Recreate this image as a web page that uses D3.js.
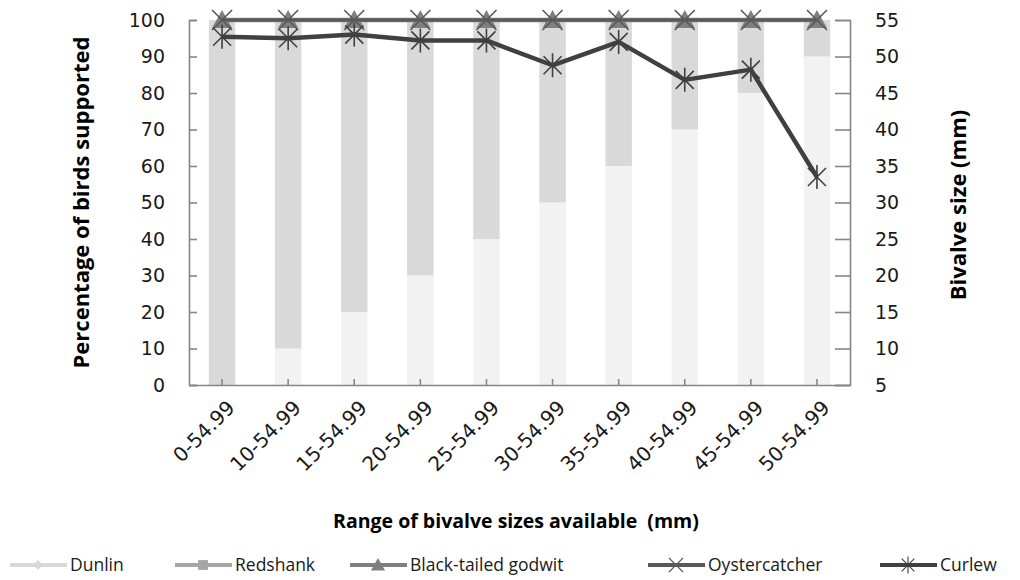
<!DOCTYPE html>
<html>
<head>
<meta charset="utf-8">
<script src="https://cdn.jsdelivr.net/npm/d3@7"></script>
<style>
	body { margin: 0; background: #fff; }
	svg { display: block; }
</style>
</head>
<body>
<div id="chart"></div>
<script>
// data
const categories = ["0-54.99", "10-54.99", "15-54.99", "20-54.99", "25-54.99",
	"30-54.99", "35-54.99", "40-54.99", "45-54.99", "50-54.99"];
const dunlin = [0, 10, 20, 30, 40, 50, 60, 70, 80, 90];
const redshank = [100, 90, 80, 70, 60, 50, 40, 30, 20, 10];
const godwit = [100, 100, 100, 100, 100, 100, 100, 100, 100, 100];
const oystercatcher = [55, 55, 55, 55, 55, 55, 55, 55, 55, 55];
const curlew = [52.7, 52.5, 53.0, 52.2, 52.2, 48.8, 52.0, 46.8, 48.2, 33.5];
const leftTicks = [0, 10, 20, 30, 40, 50, 60, 70, 80, 90, 100];
const rightTicks = [5, 10, 15, 20, 25, 30, 35, 40, 45, 50, 55];

const W = 1020, H = 580;
const pLeft = 189, pRight = 850, pTop = 20, pBottom = 385;
const axisCol = "#868686";

const svg = d3.select("#chart").append("svg")
	.attr("width", W)
	.attr("height", H)
	.style("font-family", "'DejaVu Sans', sans-serif");

const x = d3.scaleBand()
	.domain(categories)
	.range([pLeft, pRight])
	.paddingInner(0.6)
	.paddingOuter(0.3);
const cx = c => x(c) + x.bandwidth() / 2;

const yL = d3.scaleLinear().domain([0, 100]).range([pBottom, pTop]);
const yR = d3.scaleLinear().domain([5, 55]).range([pBottom, pTop]);

// stacked bars (Dunlin at the bottom, Redshank on top)
const rows = categories.map((c, i) => ({cat: c, Dunlin: dunlin[i], Redshank: redshank[i]}));
const stack = d3.stack().keys(["Dunlin", "Redshank"])(rows);
const barCol = {Dunlin: "#f2f2f2", Redshank: "#d9d9d9"};

svg.append("g").selectAll("g")
	.data(stack)
	.join("g")
		.attr("fill", d => barCol[d.key])
	.selectAll("rect")
	.data(d => d)
	.join("rect")
		.attr("x", d => x(d.data.cat))
		.attr("width", x.bandwidth())
		.attr("y", d => yL(d[1]))
		.attr("height", d => yL(d[0]) - yL(d[1]));

// axes
const gl = svg.append("g")
	.attr("transform", `translate(${pLeft},0)`)
	.call(d3.axisRight(yL).tickValues(leftTicks).tickSize(8).tickFormat(""));
const gr = svg.append("g")
	.attr("transform", `translate(${pRight},0)`)
	.call(d3.axisLeft(yR).tickValues(rightTicks).tickSize(15).tickFormat(""));
const gb = svg.append("g")
	.attr("transform", `translate(0,${pBottom})`)
	.call(d3.axisTop(x).tickSize(6).tickSizeOuter(0).tickFormat(""));
[gl, gr, gb].forEach(g => {
	g.selectAll("path, line").attr("stroke", axisCol).attr("stroke-width", 1.6);
});
gb.select(".domain").attr("d", `M${pLeft},0.5H${pRight}`);

// tick labels
svg.append("g").selectAll("text")
	.data(leftTicks)
	.join("text")
		.attr("x", 165)
		.attr("y", d => yL(d))
		.attr("dy", "0.36em")
		.attr("text-anchor", "end")
		.attr("font-size", 19)
		.attr("fill", "#1a1a1a")
		.text(d => d);
svg.append("g").selectAll("text")
	.data(rightTicks)
	.join("text")
		.attr("x", 875)
		.attr("y", d => yR(d))
		.attr("dy", "0.36em")
		.attr("font-size", 19)
		.attr("fill", "#1a1a1a")
		.text(d => d);
svg.append("g").selectAll("text")
	.data(categories)
	.join("text")
		.attr("transform", d => `translate(${cx(d) + 14},${pBottom + 24}) rotate(-45)`)
		.attr("text-anchor", "end")
		.attr("font-size", 20)
		.attr("fill", "#1a1a1a")
		.text(d => d);

// titles
const bold = "'Open Sans', sans-serif";
svg.append("text")
	.attr("transform", `translate(89,${(pTop + pBottom) / 2}) rotate(-90)`)
	.attr("text-anchor", "middle")
	.attr("font-family", bold).attr("font-weight", "bold").attr("font-size", 22)
	.text("Percentage of birds supported");
svg.append("text")
	.attr("transform", `translate(966,205) rotate(-90)`)
	.attr("text-anchor", "middle")
	.attr("font-family", bold).attr("font-weight", "bold").attr("font-size", 22)
	.text("Bivalve size (mm)");
svg.append("text")
	.attr("x", 516).attr("y", 528)
	.attr("text-anchor", "middle")
	.style("white-space", "pre")
	.attr("font-family", bold).attr("font-weight", "bold").attr("font-size", 19.5)
	.text("Range of bivalve sizes available  (mm)");

// marker shapes
function drawMarker(g, type, col) {
	if (type == "diamond") {
		g.append("path").attr("d", "M0,-7L7,0L0,7L-7,0Z").attr("fill", col);
	} else if (type == "square") {
		g.append("rect").attr("x", -7).attr("y", -7).attr("width", 14).attr("height", 14).attr("fill", col);
	} else if (type == "triangle") {
		g.append("path").attr("d", "M0,-10L10,8L-10,8Z").attr("fill", col);
	} else if (type == "x") {
		g.append("path").attr("d", "M-10,-10L10,10M-10,10L10,-10").attr("stroke", col).attr("stroke-width", 1.6);
	} else if (type == "star") {
		g.append("path").attr("d", "M-9,-9L9,9M-9,9L9,-9M0,-12V12").attr("stroke", col).attr("stroke-width", 1.6);
	}
}

const lineSeries = [
	{name: "Black-tailed godwit", values: godwit, y: yL, col: "#7f7f7f", width: 4.5, marker: "triangle"},
	{name: "Oystercatcher", values: oystercatcher, y: yR, col: "#595959", width: 3, marker: "x"},
	{name: "Curlew", values: curlew, y: yR, col: "#404040", width: 4.5, marker: "star"}
];

lineSeries.forEach(s => {
	const line = d3.line()
		.x((d, i) => cx(categories[i]))
		.y(d => s.y(d));
	svg.append("path")
		.datum(s.values)
		.attr("d", line)
		.attr("fill", "none")
		.attr("stroke", s.col)
		.attr("stroke-width", s.width)
		.attr("stroke-linejoin", "round");
	s.values.forEach((v, i) => {
		const g = svg.append("g").attr("transform", `translate(${cx(categories[i])},${s.y(v)})`);
		drawMarker(g, s.marker, s.col);
	});
});

// legend
const legend = [
	{name: "Dunlin", col: "#d9d9d9", marker: "diamond", x: 10},
	{name: "Redshank", col: "#a6a6a6", marker: "square", x: 175},
	{name: "Black-tailed godwit", col: "#7f7f7f", marker: "triangle", x: 350},
	{name: "Oystercatcher", col: "#595959", marker: "x", x: 648},
	{name: "Curlew", col: "#404040", marker: "star", x: 880}
];
const lg = svg.append("g").attr("transform", "translate(0,565)");
legend.forEach(d => {
	lg.append("line")
		.attr("x1", d.x).attr("x2", d.x + 57)
		.attr("stroke", d.col).attr("stroke-width", 4);
	const m = lg.append("g").attr("transform", `translate(${d.x + 28},0) scale(0.7)`);
	drawMarker(m, d.marker, d.col);
	lg.append("text")
		.attr("x", d.x + 60)
		.attr("dy", "0.35em")
		.attr("font-family", "'Open Sans', sans-serif")
		.attr("font-size", 17.5)
		.attr("fill", "#1a1a1a")
		.text(d.name);
});
</script>
</body>
</html>
